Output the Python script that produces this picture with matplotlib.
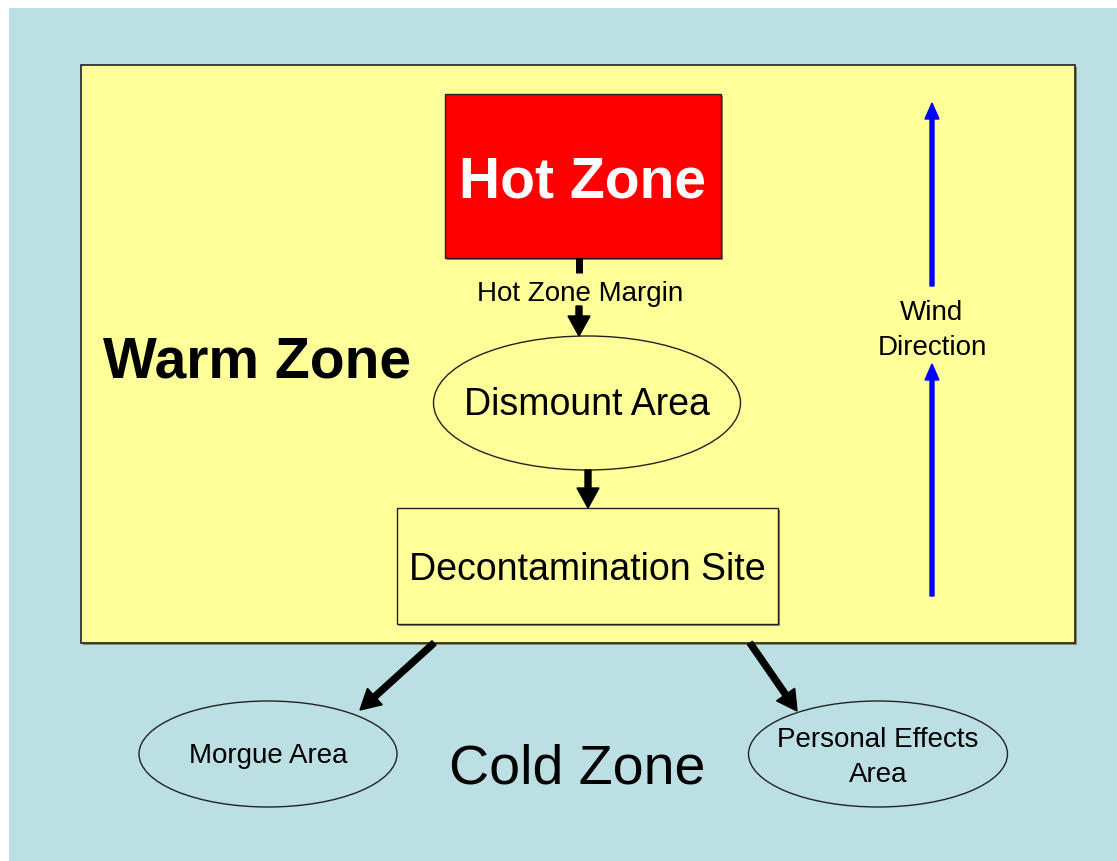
import matplotlib

matplotlib.use("Agg", force=True)
from matplotlib import pyplot as plt
from matplotlib.patches import Ellipse, Rectangle

plt.rcParams["font.family"] = ["Liberation Sans", "DejaVu Sans"]

W, H = 1117, 861

# zones: (x0, y0, x1, y1) in pixel space
ZONE_LABELS = ["Warm Zone", "Hot Zone", "Cold Zone"]
WARM_BOX = (81, 65, 1075, 643)
HOT_BOX = (445, 94, 721, 258)
DECON_BOX = (397, 508, 778, 624)

# ellipses: label lines, centre x, centre y, width, height
ELLIPSE_LABELS = [["Dismount Area"], ["Morgue Area"], ["Personal Effects", "Area"]]
ELLIPSE_CX = [587, 268, 878]
ELLIPSE_CY = [403, 754, 754]
ELLIPSE_W = [307, 258, 259]
ELLIPSE_H = [134, 106, 106]
ELLIPSE_BASE = [415, 763, 747]

# flow arrows (x0, y0) -> (x1, y1)
FLOW_ARROWS = [
    ((579, 306), (579, 336)),
    ((588, 470), (588, 508)),
    ((434, 643), (360, 710)),
    ((750, 643), (797, 711)),
]
WIND_ARROWS = [((932, 286), (932, 103)), ((932, 596), (932, 364))]

BLUE_BG = "#BBDFE2"
YELLOW = "#FFFF99"
EDGE = "#222222"
LINE_STEP = 35

fig = plt.figure(figsize=(W / 100, H / 100), dpi=100)
ax = fig.add_axes([0, 0, 1, 1])
ax.set_xlim(0, W)
ax.set_ylim(H, 0)
ax.axis("off")

ax.add_patch(Rectangle((9, 8), W - 9, H - 8, facecolor=BLUE_BG, edgecolor="none"))


def box(b, fc, lw=1.0, z=1):
    x0, y0, x1, y1 = b
    ax.add_patch(Rectangle((x0 + 2, y0 + 2), x1 - x0, y1 - y0, facecolor="#8a8a6a", edgecolor="none", zorder=z))
    ax.add_patch(Rectangle((x0, y0), x1 - x0, y1 - y0, facecolor=fc, edgecolor=EDGE, lw=lw, zorder=z + 0.1))


def lines(x, base, texts, size, **kw):
    for i, t in enumerate(texts):
        ax.text(x, base + i * LINE_STEP, t, ha="center", va="baseline", fontsize=size, zorder=4, **kw)


box(WARM_BOX, YELLOW, lw=1.2)
box(HOT_BOX, "#FF0000", lw=1.0, z=2)
box(DECON_BOX, YELLOW, lw=1.0, z=2)

for label, cx, cy, w, h, base in zip(ELLIPSE_LABELS, ELLIPSE_CX, ELLIPSE_CY, ELLIPSE_W, ELLIPSE_H, ELLIPSE_BASE):
    ax.add_patch(Ellipse((cx, cy), w, h, facecolor="none", edgecolor=EDGE, lw=1.0, zorder=3))
    size = 27 if label[0] == "Dismount Area" else 20
    lines(cx, base, label, size)

lines(583, 198, [ZONE_LABELS[1]], 41, fontweight="bold", color="white")
lines(257, 377, [ZONE_LABELS[0]], 41, fontweight="bold")
lines(577, 783, [ZONE_LABELS[2]], 40)
lines(587, 580, ["Decontamination Site"], 27)
lines(580, 301, ["Hot Zone Margin"], 20)
lines(932, 320, ["Wind", "Direction"], 20)

# stub below hot zone
ax.plot([579, 579], [258, 273], color="black", lw=5, solid_capstyle="butt", zorder=3)

for (x0, y0), (x1, y1) in FLOW_ARROWS:
    ax.arrow(x0, y0, x1 - x0, y1 - y0, width=6, head_width=22, head_length=20,
             length_includes_head=True, fc="black", ec="black", zorder=5)

for (x0, y0), (x1, y1) in WIND_ARROWS:
    ax.arrow(x0, y0, x1 - x0, y1 - y0, width=4, head_width=14, head_length=16,
             length_includes_head=True, fc="#0000FF", ec="#0000FF", zorder=5)

fig.savefig("out.png", dpi=100)
